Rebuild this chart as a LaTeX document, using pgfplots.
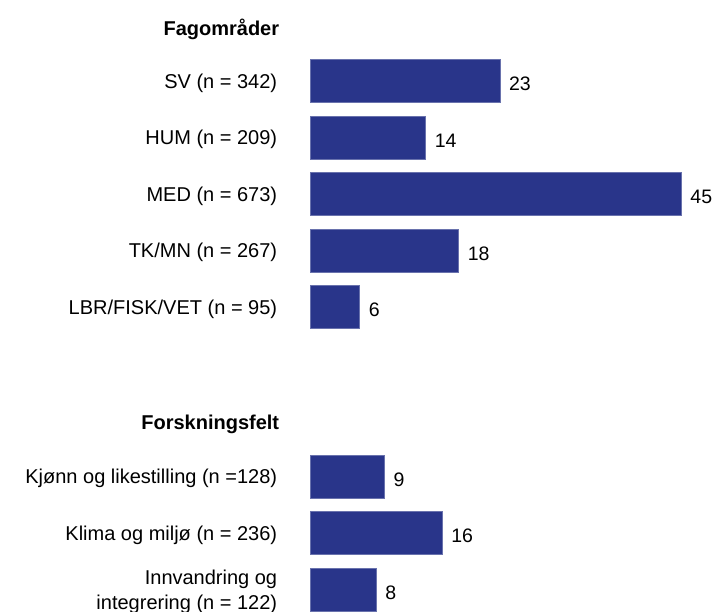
\documentclass[border=0pt]{standalone}
\usepackage{fontspec}
\setmainfont{Liberation Sans}
\usepackage{pgfplots}
\pgfplotsset{compat=1.18}
\definecolor{barblue}{RGB}{41,53,138}
\newcommand{\lblfont}{\fontsize{20bp}{24bp}\selectfont}
\newcommand{\numfont}{\fontsize{19.5bp}{24bp}\selectfont}
\begin{document}
\lblfont
\begin{tikzpicture}
\begin{axis}[
  name=main,
  scale only axis, width=713bp, height=612bp,
  xmin=-37.58, xmax=48.85, ymin=-1.434, ymax=9.398,
  y dir=reverse, axis lines=none, clip=false,
  xtick=\empty, ytick=\empty,
  xbar, bar width=43bp, bar shift=0pt,
  nodes near coords,
  every node near coord/.append style={font=\numfont, anchor=west, inner sep=0pt, xshift=9bp, yshift=-3bp, text=black},
  /pgf/number format/assume math mode=true,
]
\addplot[fill=barblue, draw=barblue!70!white, line width=0.5bp] coordinates {
 (23,0) (14,1) (45,2) (18,3) (6,4) (9,7) (16,8) (8,9)};
\begin{scope}[every node/.style={anchor=east, xshift=-26bp, yshift=-2bp, font=\lblfont}]
\node[font=\lblfont\bfseries, xshift=2bp] at (axis cs:0,-0.95) {Fagområder};
\node at (axis cs:0,0) {SV (n = 342)};
\node at (axis cs:0,1) {HUM (n = 209)};
\node at (axis cs:0,2) {MED (n = 673)};
\node at (axis cs:0,3) {TK/MN (n = 267)};
\node at (axis cs:0,4) {LBR/FISK/VET (n = 95)};
\node[font=\lblfont\bfseries, xshift=2bp] at (axis cs:0,6.04) {Forskningsfelt};
\node at (axis cs:0,7) {Kjønn og likestilling (n =128)};
\node at (axis cs:0,8) {Klima og miljø (n = 236)};
\node[align=right, font=\fontsize{20bp}{25bp}\selectfont] at (axis cs:0,9) {Innvandring og\\integrering (n = 122)};
\end{scope}
\end{axis}
\pgfresetboundingbox
\useasboundingbox (main.south west) rectangle (main.north east);
\end{tikzpicture}
\end{document}
